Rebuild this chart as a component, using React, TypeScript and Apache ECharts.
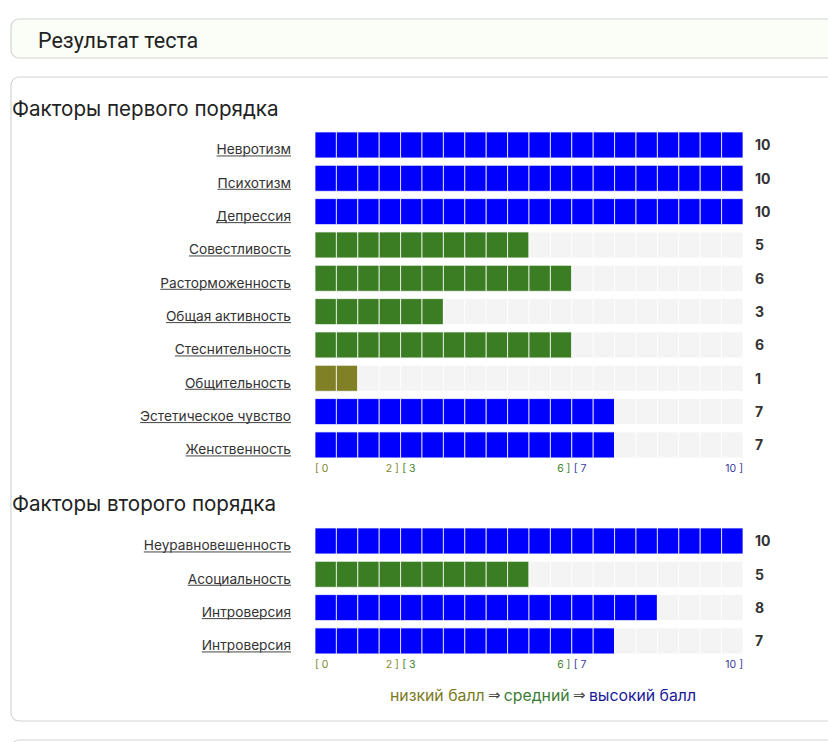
import React, { useEffect, useRef } from "react";
import * as echarts from "echarts";

const FIRST_LABELS = [
  "Невротизм",
  "Психотизм",
  "Депрессия",
  "Совестливость",
  "Расторможенность",
  "Общая активность",
  "Стеснительность",
  "Общительность",
  "Эстетическое чувство",
  "Женственность",
];
const FIRST_VALUES = [10, 10, 10, 5, 6, 3, 6, 1, 7, 7];

const SECOND_LABELS = ["Неуравновешенность", "Асоциальность", "Интроверсия", "Интроверсия"];
const SECOND_VALUES = [10, 5, 8, 7];

const TICK_VALUES = [0, 2, 6, 10];
const TICK_TEXTS = ["{lo|[ 0}", "{lo|2 ]} {mid|[ 3}", "{mid|6 ]} {hi|[ 7}", "{hi|10 ]}"];

const MAX_SCORE = 10;
const CELLS = 20;

const OLIVE = "#808026";
const GREEN = "#3b7d23";
const BLUE = "#0000ff";
const EMPTY = "#f4f4f4";

const LABEL_FONT = "Inter, 'Noto Sans', sans-serif";
const LABEL_SIZE = 13.7;
const LABEL_MARGIN = 24;

function levelColor(v: number) {
  if (v <= 2) return OLIVE;
  if (v <= 6) return GREEN;
  return BLUE;
}

let measureCtx: CanvasRenderingContext2D | null = null;
function measure(text: string) {
  if (!measureCtx) {
    const c = document.createElement("canvas");
    measureCtx = c.getContext("2d");
  }
  if (!measureCtx) return text.length * 7;
  measureCtx.font = `${LABEL_SIZE}px Inter`;
  return measureCtx.measureText(text).width;
}

function makeRender(labels: string[]) {
  return (params: any, api: any) => {
    const v = api.value(0) as number;
    const idx = api.value(1) as number;
    const p0 = api.coord([0, idx]);
    const p1 = api.coord([MAX_SCORE, idx]);
    const band = api.size([0, 1])[1];
    const h = band * 0.78;
    const cw = (p1[0] - p0[0]) / CELLS;
    const filled = Math.round((v / MAX_SCORE) * CELLS);
    const color = levelColor(v);
    const children: any[] = [];
    for (let k = 0; k < CELLS; k++) {
      children.push({
        type: "rect",
        shape: { x: p0[0] + k * cw, y: p0[1] - h / 2, width: cw, height: h },
        style: {
          fill: k < filled ? color : EMPTY,
          stroke: "rgba(255,255,255,0.75)",
          lineWidth: 1,
        },
      });
    }
    const label = labels[params.dataIndex];
    const w = measure(label);
    const xr = p0[0] - LABEL_MARGIN;
    const uy = p0[1] + 11;
    children.push({
      type: "line",
      shape: { x1: xr - w, y1: uy, x2: xr, y2: uy },
      style: { stroke: "#444", lineWidth: 1 },
    });
    return { type: "group", children };
  };
}

function tickFormatter(v: number) {
  const i = TICK_VALUES.indexOf(v);
  return i >= 0 ? TICK_TEXTS[i] : "";
}

const tickRich = {
  lo: { color: "#85852e", fontSize: 10.5, fontFamily: LABEL_FONT },
  mid: { color: "#3f7f2a", fontSize: 10.5, fontFamily: LABEL_FONT },
  hi: { color: "#3a3a99", fontSize: 10.5, fontFamily: LABEL_FONT },
};

function xAxisFor(gridIndex: number) {
  return {
    type: "value",
    gridIndex,
    min: 0,
    max: MAX_SCORE,
    interval: 2,
    axisLine: { show: false },
    axisTick: { show: false },
    splitLine: { show: false },
    axisLabel: {
      margin: 1,
      formatter: tickFormatter,
      rich: tickRich,
      alignMinLabel: "left",
      alignMaxLabel: "right",
      showMinLabel: true,
      showMaxLabel: true,
    },
  };
}

function leftAxis(gridIndex: number, labels: string[]) {
  return {
    type: "category",
    gridIndex,
    data: labels,
    inverse: true,
    position: "left",
    axisLine: { show: false },
    axisTick: { show: false },
    splitLine: { show: false },
    axisLabel: {
      margin: LABEL_MARGIN,
      interval: 0,
      formatter: (v: string) => `{t|${v}}`,
      rich: {
        t: {
          color: "#333",
          fontSize: LABEL_SIZE,
          fontFamily: LABEL_FONT,
          padding: [9, 0, 0, 0],
        },
      },
    },
  };
}

function rightAxis(gridIndex: number, values: number[]) {
  return {
    type: "category",
    gridIndex,
    data: values.map((v) => String(v)),
    inverse: true,
    position: "right",
    axisLine: { show: false },
    axisTick: { show: false },
    splitLine: { show: false },
    axisLabel: {
      margin: 12,
      color: "#333",
      fontSize: 14,
      fontWeight: "bold",
      fontFamily: LABEL_FONT,
      interval: 0,
    },
  };
}

export default function App() {
  const ref = useRef<HTMLDivElement>(null);

  useEffect(() => {
    if (!ref.current) return;
    const chart = echarts.init(ref.current, undefined, { renderer: "svg" });
    const option: any = {
      animation: false,
      backgroundColor: "#ffffff",
      graphic: [
        {
          type: "rect",
          shape: { x: 11, y: 19, width: 840, height: 39, r: 8 },
          style: { fill: "#fafef7", stroke: "#d4d4d4", lineWidth: 1.2 },
          silent: true,
        },
        {
          type: "text",
          x: 38,
          y: 40,
          style: {
            text: "Результат теста",
            fontSize: 21.5,
            fontFamily: "Roboto, sans-serif",
            fill: "#222",
            verticalAlign: "middle",
          },
        },
        {
          type: "rect",
          shape: { x: 11, y: 77, width: 840, height: 644, r: 8 },
          style: { fill: "none", stroke: "#d4d4d4", lineWidth: 1.2 },
          silent: true,
        },
        {
          type: "rect",
          shape: { x: 11, y: 740, width: 840, height: 60, r: 8 },
          style: { fill: "none", stroke: "#d4d4d4", lineWidth: 1.2 },
          silent: true,
        },
        {
          type: "text",
          x: 12,
          y: 108,
          style: {
            text: "Факторы первого порядка",
            fontSize: 20.6,
            fontFamily: LABEL_FONT,
            fill: "#222",
            verticalAlign: "middle",
          },
        },
        {
          type: "text",
          x: 12,
          y: 503,
          style: {
            text: "Факторы второго порядка",
            fontSize: 20.6,
            fontFamily: LABEL_FONT,
            fill: "#222",
            verticalAlign: "middle",
          },
        },
        {
          type: "text",
          x: 543,
          y: 695,
          style: {
            text: "{lo|низкий балл} {ar|⇒} {mid|средний} {ar|⇒} {hi|высокий балл}",
            align: "center",
            verticalAlign: "middle",
            rich: {
              lo: { fontSize: 15.8, fontFamily: LABEL_FONT, fill: "#7a7a22" },
              mid: { fontSize: 15.8, fontFamily: LABEL_FONT, fill: "#3b7d35" },
              hi: { fontSize: 15.8, fontFamily: LABEL_FONT, fill: "#1a1a99" },
              ar: { fontSize: 15, fontFamily: "DejaVu Sans, sans-serif", fill: "#444" },
            },
          },
        },
      ],
      grid: [
        { left: 315, right: 85, top: 128.3, height: 333.3 },
        { left: 315, right: 85, top: 524.3, height: 133.3 },
      ],
      xAxis: [xAxisFor(0), xAxisFor(1)],
      yAxis: [
        leftAxis(0, FIRST_LABELS),
        rightAxis(0, FIRST_VALUES),
        leftAxis(1, SECOND_LABELS),
        rightAxis(1, SECOND_VALUES),
      ],
      series: [
        {
          type: "custom",
          xAxisIndex: 0,
          yAxisIndex: 0,
          clip: false,
          renderItem: makeRender(FIRST_LABELS),
          encode: { x: 0, y: 1 },
          data: FIRST_VALUES.map((v, i) => [v, i]),
        },
        {
          type: "custom",
          xAxisIndex: 1,
          yAxisIndex: 2,
          clip: false,
          renderItem: makeRender(SECOND_LABELS),
          encode: { x: 0, y: 1 },
          data: SECOND_VALUES.map((v, i) => [v, i]),
        },
      ],
    };
    chart.setOption(option);
    return () => chart.dispose();
  }, []);

  return (
    <div
      ref={ref}
      style={{ position: "fixed", left: 0, top: 0, width: 828, height: 742, background: "#fff" }}
    />
  );
}
